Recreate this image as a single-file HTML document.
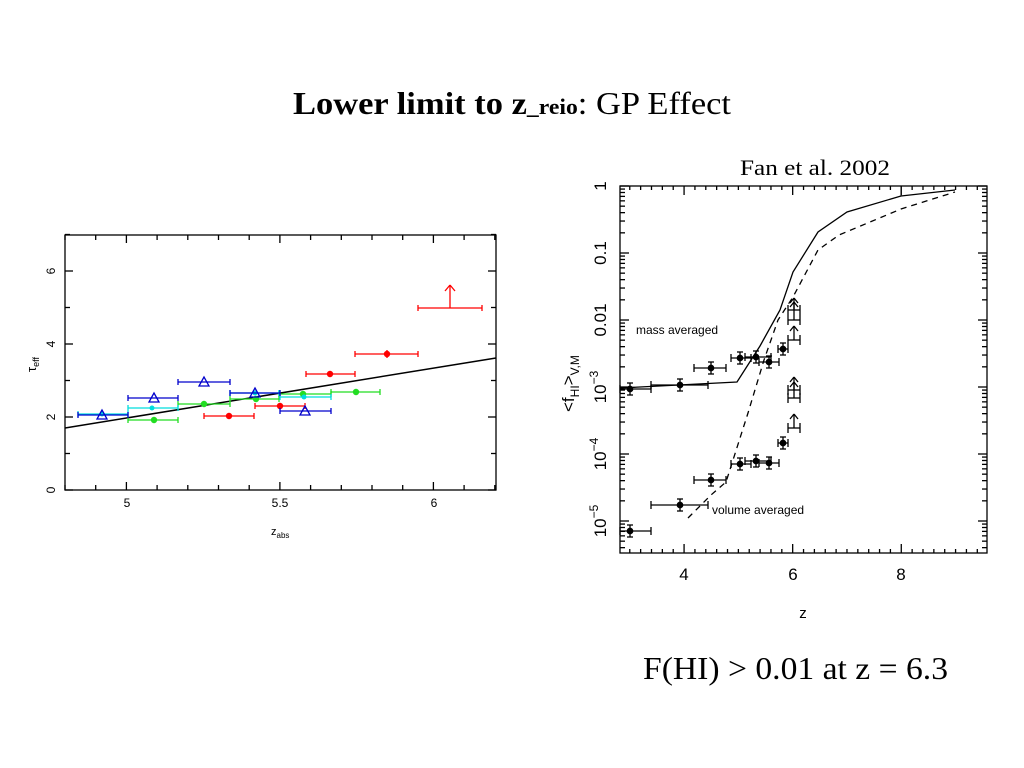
<!DOCTYPE html>
<html><head><meta charset="utf-8"><style>
html,body{margin:0;padding:0;background:#fff;width:1024px;height:768px;overflow:hidden}
svg{position:absolute;left:0;top:0}
</style></head><body>
<svg id="s" width="1024" height="768" xmlns="http://www.w3.org/2000/svg" font-family="Liberation Sans, sans-serif">
<text x="293" y="114" font-family="Liberation Serif, serif" font-size="32" textLength="438" lengthAdjust="spacingAndGlyphs"><tspan font-weight="bold">Lower limit to z</tspan><tspan font-weight="bold" font-size="22">_reio</tspan><tspan>: GP Effect</tspan></text>
<text x="740" y="175" font-family="Liberation Serif, serif" font-size="22" textLength="150" lengthAdjust="spacingAndGlyphs">Fan et al. 2002</text>
<text x="643" y="679" font-family="Liberation Serif, serif" font-size="32" textLength="305" lengthAdjust="spacingAndGlyphs">F(HI) &gt; 0.01 at z = 6.3</text>

<g id="L" stroke="#000" fill="none" stroke-width="1.3">
<rect x="65" y="235" width="431" height="255"/>
</g>
<g font-size="12" fill="#000">
<text x="127" y="507" text-anchor="middle">5</text>
<text x="280" y="507" text-anchor="middle">5.5</text>
<text x="434" y="507" text-anchor="middle">6</text>
<text transform="translate(55,490) rotate(-90)" text-anchor="middle">0</text>
<text transform="translate(55,417) rotate(-90)" text-anchor="middle">2</text>
<text transform="translate(55,344) rotate(-90)" text-anchor="middle">4</text>
<text transform="translate(55,271) rotate(-90)" text-anchor="middle">6</text>
<text x="271" y="535" font-size="11">z<tspan font-size="8" dy="3">abs</tspan></text>
<text transform="translate(36,372) rotate(-90)" font-size="13">τ<tspan font-size="9" dy="3">eff</tspan></text>
</g>
<line x1="65" y1="428" x2="496" y2="358" stroke="#000" stroke-width="1.5"/>
<g id="Ld" stroke-width="1.3"></g>

<g id="R" stroke="#000" fill="none" stroke-width="1.3">
<rect x="620" y="186" width="367" height="367"/>
</g>
<g font-size="17" fill="#000">
<text x="684" y="580" text-anchor="middle">4</text>
<text x="793" y="580" text-anchor="middle">6</text>
<text x="901" y="580" text-anchor="middle">8</text>
<text x="803" y="618" text-anchor="middle" font-size="15">z</text>
<text transform="translate(606,186) rotate(-90)" text-anchor="middle">1</text>
<text transform="translate(606,253) rotate(-90)" text-anchor="middle">0.1</text>
<text transform="translate(606,320) rotate(-90)" text-anchor="middle">0.01</text>
<text transform="translate(606,387) rotate(-90)" text-anchor="middle">10<tspan font-size="12" dy="-8">−3</tspan></text>
<text transform="translate(606,454) rotate(-90)" text-anchor="middle">10<tspan font-size="12" dy="-8">−4</tspan></text>
<text transform="translate(606,521) rotate(-90)" text-anchor="middle">10<tspan font-size="12" dy="-8">−5</tspan></text>
<text transform="translate(574,412) rotate(-90)">&lt;f<tspan font-size="12" dy="5">HI</tspan><tspan dy="-5">&gt;</tspan><tspan font-size="12" dy="5">V,M</tspan></text>
<text x="636" y="334" font-size="12">mass averaged</text>
<text x="712" y="514" font-size="12">volume averaged</text>
</g>
<polyline points="620,388 737,382 760,346 780,310 793,272 818,232 847,212 901,196 955,190" fill="none" stroke="#000" stroke-width="1.3"/>
<line x1="901" y1="186" x2="901" y2="196" stroke="#000"/>
<polyline points="688,518 711,495 726,482 748,413 764,360 778,320 793,297 818,250 839,235 901,209 955,192" fill="none" stroke="#000" stroke-width="1.3" stroke-dasharray="6,5"/>
<g id="Rd" stroke="#000" fill="#000" stroke-width="1.3"></g>
</svg>
<script>
var NS="http://www.w3.org/2000/svg";
function el(p,t,a){var e=document.createElementNS(NS,t);for(var k in a)e.setAttribute(k,a[k]);document.getElementById(p).appendChild(e);return e;}
function ln(p,x1,y1,x2,y2,c,w){el(p,'line',{x1:x1,y1:y1,x2:x2,y2:y2,stroke:c||'#000','stroke-width':w||1.3});}
for(var z=4.8;z<=6.21;z+=0.1){var x=65+(z-4.8)*307;var big=Math.abs(z*2-Math.round(z*2))<0.01;var h=big?8:5;ln('L',x,490,x,490-h);ln('L',x,235,x,235+h);}
for(var t=0;t<=7;t++){var y=490-t*36.5;var h=(t%2==0)?8:5;ln('L',65,y,65+h,y);ln('L',496,y,496-h,y);}
function pt(c,x,y,x1,x2,shape){ln('Ld',x1,y,x2,y,c);ln('Ld',x1,y-3,x1,y+3,c);ln('Ld',x2,y-3,x2,y+3,c);
 if(shape=='c')el('Ld','circle',{cx:x,cy:y,r:3.2,fill:c});
 else if(shape=='t')el('Ld','polygon',{points:(x-5)+','+(y+4)+' '+(x+5)+','+(y+4)+' '+x+','+(y-5),fill:'none',stroke:c,'stroke-width':1.3});
 else el('Ld','circle',{cx:x,cy:y,r:2.5,fill:c});}
var R='#f00',G='#2d2',C='#0dd',B='#00c';
pt(R,387,354,355,418,'c');pt(R,330,374,306,355,'c');pt(R,280,406,255,305,'c');pt(R,229,416,204,254,'c');
ln('Ld',387,350,387,358,R);
pt(G,154,420,128,178,'c');pt(G,204,404,178,230,'c');pt(G,256,399,230,279,'c');pt(G,303,394,279,331,'c');pt(G,356,392,331,380,'c');
pt(C,102,414,78,128,'s');pt(C,152,408,128,178,'s');pt(C,255,393,230,279,'s');pt(C,304,397,280,331,'s');
pt(B,102,415,78,128,'t');pt(B,154,398,128,178,'t');pt(B,204,382,178,230,'t');pt(B,255,393,230,280,'t');pt(B,305,411,280,331,'t');
ln('Ld',418,308,482,308,R);ln('Ld',418,305,418,311,R);ln('Ld',482,305,482,311,R);
ln('Ld',450,308,450,285,R);ln('Ld',450,285,445,291,R);ln('Ld',450,285,455,291,R);
for(var z=3;z<=9.5;z+=0.2){var x=620+(z-2.82)*54.3;if(x>987)break;var big=Math.abs(z/2-Math.round(z/2))<0.01;var h=big?9:4;ln('R',x,553,x,553-h);ln('R',x,186,x,186+h);}
for(var d=0;d<6;d++){for(var m=1;m<10;m++){var y=186+(d+1)*67-Math.log10(m)*67;if(y>553||y<186)continue;var h=m==1?9:5;ln('R',620,y,620+h,y);ln('R',987,y,987-h,y);}}
ln('R',620,186,629,186);ln('R',987,186,978,186);
function rp(x,y,x1,x2){ln('Rd',x1,y,x2,y);ln('Rd',x1,y-4,x1,y+4);ln('Rd',x2,y-4,x2,y+4);ln('Rd',x,y-6,x,y+6);ln('Rd',x-3,y-6,x+3,y-6);ln('Rd',x-3,y+6,x+3,y+6);el('Rd','circle',{cx:x,cy:y,r:2.7});}
rp(630,389,620,651);rp(680,385,651,708);rp(711,368,694,726);rp(740,358,731,751);rp(756,357,745,771);rp(769,362,759,779);rp(783,349,778,788);
rp(630,531,620,651);rp(680,505,651,708);rp(711,480,694,726);rp(740,464,731,751);rp(756,461,745,771);rp(769,463,759,779);rp(783,443,778,788);
function ar(y,yt){ln('Rd',788,y,800,y);ln('Rd',788,y-5,788,y+5);ln('Rd',800,y-5,800,y+5);ln('Rd',794,y,794,yt);ln('Rd',794,yt,790,yt+5);ln('Rd',794,yt,798,yt+5);}
ar(310,298);ar(320,302);ar(340,326);ar(390,377);ar(398,382);ar(428,414);
</script>
</body></html>
